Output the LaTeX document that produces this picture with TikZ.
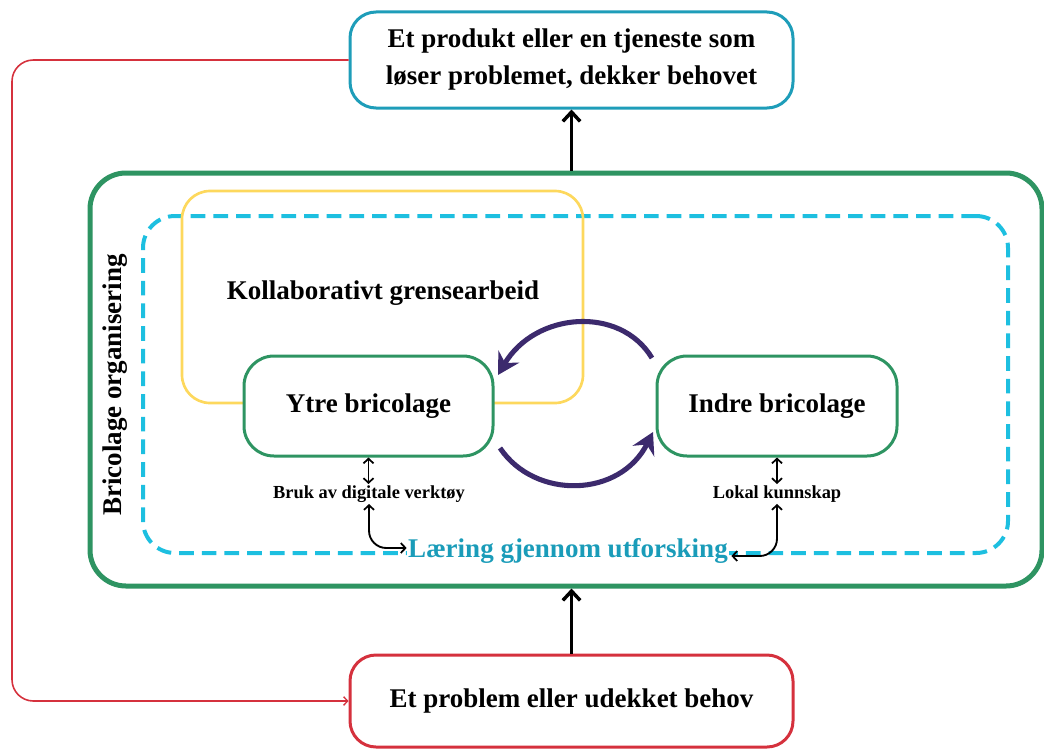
\documentclass[tikz,border=0pt]{standalone}
\usepackage{fontspec}
\setmainfont{Liberation Serif}
\usetikzlibrary{arrows.meta,calc}
\definecolor{cTop}{HTML}{1E9DB9}
\definecolor{cRed}{HTML}{D5313D}
\definecolor{cGreen}{HTML}{2E9462}
\definecolor{cDash}{HTML}{1DBFE0}
\definecolor{cYellow}{HTML}{FDD85D}
\definecolor{cPurple}{HTML}{3C2A6D}
\definecolor{cLear}{HTML}{1A9CB9}
\tikzset{
  bigfont/.style={font=\fontsize{20.25}{27.75}\selectfont\bfseries},
  smallfont/.style={font=\fontsize{13.8}{16}\selectfont\bfseries},
  endbox/.style={draw, line width=2.25pt, rounded corners=19.5pt, fill=white,
    minimum width=332.25pt, inner sep=0pt, align=center, bigfont},
  bricbox/.style={draw=cGreen, line width=2.25pt, rounded corners=22.5pt, fill=white,
    minimum height=75pt, inner sep=0pt, bigfont},
  bigarrow/.style={line width=2.7pt, -{Straight Barb[length=7pt,width=13pt,line width=2.6pt]}},
  cyclearrow/.style={draw=cPurple, line width=3.8pt, -{Stealth[length=16pt,width=18pt,inset=5.5pt]}},
  smallhead/.style={Straight Barb[length=3.5pt,width=7.5pt,line width=1.3pt]},
  smallarrow/.style={line width=1.4pt, {Straight Barb[length=3.5pt,width=7.5pt,line width=1.3pt]}-{Straight Barb[length=3.5pt,width=7.5pt,line width=1.3pt]}},
  redline/.style={draw=cRed, line width=1.2pt, rounded corners=16pt, -{Straight Barb[length=3pt,width=6.5pt,line width=1pt]}},
}
\begin{document}
\begin{tikzpicture}[x=0.75pt,y=-0.75pt]
\useasboundingbox (0,0) rectangle (1044,749);
% outer organisation frame
\node[draw=cGreen, line width=3.75pt, rounded corners=27pt, minimum width=714pt,
  minimum height=309.75pt, inner sep=0pt] (org) at (566,379.5) {};
% dashed learning frame
\node[draw=cDash, line width=3pt, rounded corners=24pt, dash pattern=on 11pt off 6pt,
  minimum width=648.75pt, minimum height=252.75pt, inner sep=0pt] (learn) at (575.5,384.5) {};
% yellow collaboration frame
\node[draw=cYellow, line width=2pt, rounded corners=21pt, minimum width=300.75pt,
  minimum height=159pt, inner sep=0pt] (kollab) at (382.5,297) {};
\node[bigfont] (kollabtxt) at (383,293) {Kollaborativt grensearbeid};
% end boxes
\node[endbox, draw=cTop, minimum height=72pt] (top) at (571.5,60)
  {Et produkt eller en tjeneste som\\løser problemet, dekker behovet};
\node[endbox, draw=cRed, minimum height=69pt] (bottom) at (571.5,701)
  {Et problem eller udekket behov};
% bricolage boxes
\node[bricbox, minimum width=186.75pt] (ytre) at (368.5,406) {Ytre bricolage};
\node[bricbox, minimum width=180pt] (indre) at (777,406) {Indre bricolage};
% rotated label
\node[bigfont, rotate=90] (orgtxt) at (115,385) {Bricolage organisering};
% small labels
\node[smallfont, inner sep=1pt] (bruk) at (369,494) {Bruk av digitale verktøy};
\node[smallfont, inner sep=1pt] (lokal) at (777,494) {Lokal kunnskap};
\node[bigfont, text=cLear, fill=white, inner sep=1pt] (laering) at (568,551) {Læring gjennom utforsking};
% main flow arrows
\draw[bigarrow] (top.south |- org.north) -- (top.south);
\draw[bigarrow] (bottom.north) -- (bottom.north |- org.south);
\draw[redline] (top.west) -| (12,400) |- (bottom.west);
% cycle arrows
\coordinate (u1) at (652,358);
\coordinate (u2) at (498,375);
\coordinate (l1) at (500,448);
\coordinate (l2) at (653,432);
\draw[cyclearrow] (u1) .. controls (620,305) and (535,312) .. (u2);
\draw[cyclearrow] (l1) .. controls (535,500) and (620,498) .. (l2);
% small arrows
\draw[smallarrow] (ytre.south) -- (ytre.south |- bruk.north);
\draw[smallarrow] (indre.south) -- (indre.south |- lokal.north);
\draw[smallarrow, rounded corners=13pt] (bruk.south) |- ($(laering.west)+(0,-3)$);
\draw[smallarrow, rounded corners=13pt] (lokal.south) |- ($(laering.east)+(2,5)$);
\end{tikzpicture}
\end{document}
